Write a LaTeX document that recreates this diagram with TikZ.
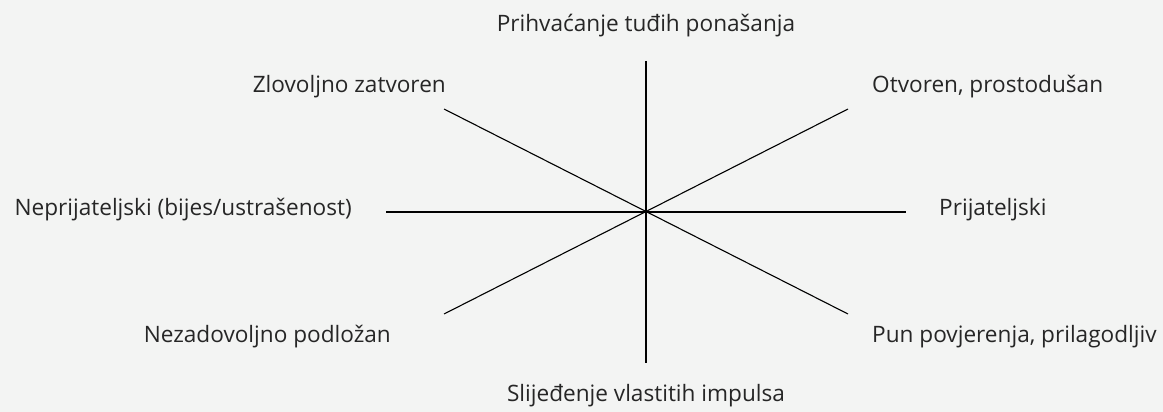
\documentclass[tikz,border=0pt]{standalone}
\usepackage{fontspec}
\setmainfont{Open Sans}
\definecolor{bg}{HTML}{F3F4F3}
\definecolor{txt}{HTML}{262626}
\begin{document}
\begin{tikzpicture}[x=1pt,y=-1pt,
  lbl/.style={text=txt,inner sep=0pt,font=\fontsize{22.6}{26}\selectfont},
  axis/.style={draw=black,line width=1.1pt}]
\fill[bg] (0,0) rectangle (1163,412);
\useasboundingbox (0,0) rectangle (1163,412);
\coordinate (c) at (646,212);
\coordinate (t) at (646,61);
\coordinate (b) at (646,363);
\coordinate (l) at (386,212);
\coordinate (r) at (906,212);
\coordinate (ul) at (444,109);
\coordinate (ur) at (848,109);
\coordinate (ll) at (444,314);
\coordinate (lr) at (848,314);
\draw[axis] (t) -- (b);
\draw[axis] (l) -- (r);
\draw[axis] (ul) -- (lr);
\draw[axis] (ur) -- (ll);
\node[lbl] (nt) at (646,26) {Prihvaćanje tuđih ponašanja};
\node[lbl] (nb) at (646,396) {Slijeđenje vlastitih impulsa};
\node[lbl,anchor=east] (nul) at (446,87) {Zlovoljno zatvoren};
\node[lbl,anchor=east] (nl) at (352,210) {Neprijateljski (bijes/ustrašenost)};
\node[lbl,anchor=east] (nll) at (391,337) {Nezadovoljno podložan};
\node[lbl,anchor=west] (nur) at (872,87) {Otvoren, prostodušan};
\node[lbl,anchor=west] (nr) at (939,210) {Prijateljski};
\node[lbl,anchor=west] (nlr) at (872,337) {Pun povjerenja, prilagodljiv};
\end{tikzpicture}
\end{document}
